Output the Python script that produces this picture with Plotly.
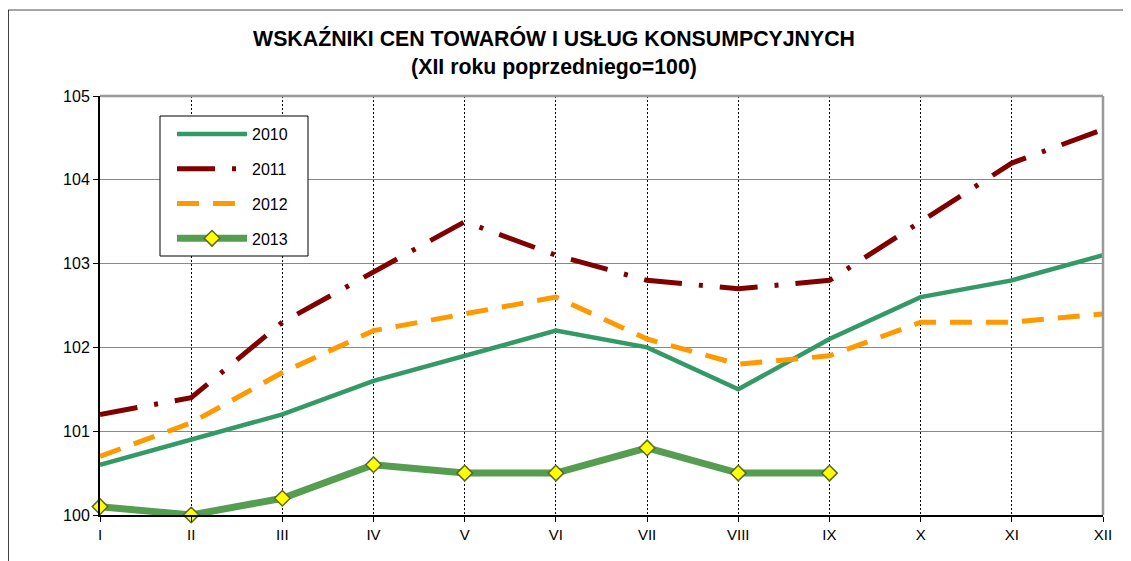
import plotly.graph_objects as go

months = ["I", "II", "III", "IV", "V", "VI", "VII", "VIII", "IX", "X", "XI", "XII"]
y2010 = [100.6, 100.9, 101.2, 101.6, 101.9, 102.2, 102.0, 101.5, 102.1, 102.6, 102.8, 103.1]
y2011 = [101.2, 101.4, 102.3, 102.9, 103.5, 103.1, 102.8, 102.7, 102.8, 103.5, 104.2, 104.6]
y2012 = [100.7, 101.1, 101.7, 102.2, 102.4, 102.6, 102.1, 101.8, 101.9, 102.3, 102.3, 102.4]
y2013 = [100.1, 100.0, 100.2, 100.6, 100.5, 100.5, 100.8, 100.5, 100.5]
yticks = [100, 101, 102, 103, 104, 105]

FONT = "Liberation Sans, Arial, sans-serif"

fig = go.Figure()
fig.add_trace(go.Scatter(x=months, y=y2010, name="2010", mode="lines",
                         line=dict(color="#339966", width=4.5), legendgroup="a"))
fig.add_trace(go.Scatter(x=months, y=y2011, name="2011", mode="lines",
                         line=dict(color="#800000", width=5, dash="38px,17px,4px,17px"),
                         legendgroup="b"))
fig.add_trace(go.Scatter(x=months, y=y2012, name="2012", mode="lines",
                         line=dict(color="#FF9900", width=5, dash="22px,14px"),
                         legendgroup="c"))
fig.add_trace(go.Scatter(x=months[:len(y2013)], y=y2013, name="2013", mode="lines+markers",
                         line=dict(color="#559E50", width=7),
                         marker=dict(symbol="diamond", size=12, color="#FFFF00",
                                     line=dict(color="#5A6A20", width=1.5)),
                         legendgroup="d", cliponaxis=False))

OFF = 8  # page body offset
W, H = 1131, 561
# target plot area in screenshot pixels
PL, PR, PT, PB = 100, 1103, 96, 515
L = PL - OFF
T = PT - OFF
R = W + OFF - PR
B = H + OFF - PB
pw, ph = PR - PL, PB - PT

def px(x):
    return (x - PL) / pw

def py(y):
    return (PB - y) / ph

shapes = [
    # outer chart frame
    dict(type="line", xref="paper", yref="paper", x0=px(8), x1=px(1145), y0=py(10), y1=py(10),
         line=dict(color="#888888", width=1.5)),
    dict(type="line", xref="paper", yref="paper", x0=px(8), x1=px(8), y0=py(10), y1=py(575),
         line=dict(color="#000000", width=1.5)),
    # plot area top/right border
    dict(type="line", xref="paper", yref="paper", x0=0, x1=1, y0=1, y1=1,
         line=dict(color="#999999", width=2.5)),
    dict(type="line", xref="paper", yref="paper", x0=1, x1=1, y0=0, y1=1,
         line=dict(color="#999999", width=2.5)),
    # legend box
    dict(type="rect", xref="paper", yref="paper", x0=px(160), x1=px(308), y0=py(256), y1=py(116),
         line=dict(color="black", width=1), fillcolor="white", layer="above"),
]

fig.update_layout(
    width=W, height=H,
    margin=dict(l=L, r=R, t=T, b=B),
    paper_bgcolor="white", plot_bgcolor="white",
    font=dict(family=FONT, size=15, color="black"),
    title=dict(text="<b>WSKAŹNIKI CEN TOWARÓW I USŁUG KONSUMPCYJNYCH<br>(XII roku poprzedniego=100)</b>",
               x=(554 - OFF) / W, xanchor="center", xref="container",
               y=1 - (46 - OFF) / H, yanchor="top",
               font=dict(family=FONT, size=21.3, color="black")),
    xaxis=dict(type="category", range=[0, 11], showgrid=True, gridcolor="black", griddash="2px,2px",
               gridwidth=1, showline=True, linecolor="black", linewidth=2, ticks="outside",
               ticklen=5, tickcolor="black", zeroline=False, tickfont=dict(size=15)),
    yaxis=dict(range=[100, 105], tickvals=yticks, showgrid=True, gridcolor="#888888", gridwidth=1,
               showline=True, linecolor="black", linewidth=2, ticks="outside", ticklen=5,
               tickcolor="black", zeroline=False, tickfont=dict(size=16)),
    legend=dict(x=px(172), y=py(117), xanchor="left", yanchor="top",
                bgcolor="rgba(0,0,0,0)", borderwidth=0,
                font=dict(family=FONT, size=16, color="black"),
                itemwidth=70, tracegroupgap=11),
    shapes=shapes,
    showlegend=True,
)

fig.write_html("out.html")
